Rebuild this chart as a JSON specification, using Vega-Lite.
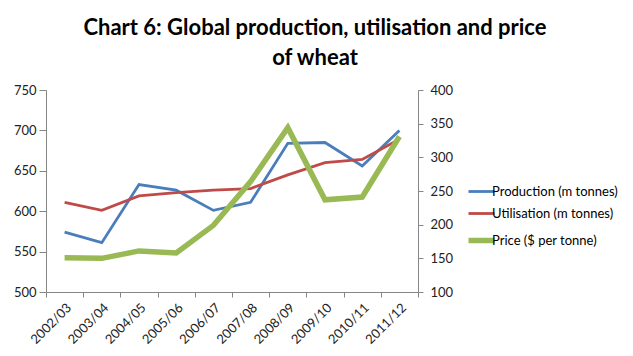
{
  "$schema": "https://vega.github.io/schema/vega-lite/v6.json",
  "autosize": "none",
  "width": 372,
  "height": 202,
  "padding": {"left": 46, "top": 90, "right": 215, "bottom": 64},
  "background": "white",
  "title": {
    "text": ["Chart 6: Global production, utilisation and price", "of wheat"],
    "font": "Lato",
    "fontSize": 22,
    "fontWeight": "bold",
    "color": "#000000",
    "anchor": "middle",
    "dx": 83,
    "offset": 14,
    "lineHeight": 30
  },
  "data": {
    "values": [
      {"year": "2002/03", "series": "Production (m tonnes)", "value": 574},
      {"year": "2003/04", "series": "Production (m tonnes)", "value": 561},
      {"year": "2004/05", "series": "Production (m tonnes)", "value": 633},
      {"year": "2005/06", "series": "Production (m tonnes)", "value": 626},
      {"year": "2006/07", "series": "Production (m tonnes)", "value": 601},
      {"year": "2007/08", "series": "Production (m tonnes)", "value": 611},
      {"year": "2008/09", "series": "Production (m tonnes)", "value": 684},
      {"year": "2009/10", "series": "Production (m tonnes)", "value": 685},
      {"year": "2010/11", "series": "Production (m tonnes)", "value": 656},
      {"year": "2011/12", "series": "Production (m tonnes)", "value": 700},
      {"year": "2002/03", "series": "Utilisation (m tonnes)", "value": 611},
      {"year": "2003/04", "series": "Utilisation (m tonnes)", "value": 601},
      {"year": "2004/05", "series": "Utilisation (m tonnes)", "value": 619},
      {"year": "2005/06", "series": "Utilisation (m tonnes)", "value": 623},
      {"year": "2006/07", "series": "Utilisation (m tonnes)", "value": 626},
      {"year": "2007/08", "series": "Utilisation (m tonnes)", "value": 628},
      {"year": "2008/09", "series": "Utilisation (m tonnes)", "value": 645},
      {"year": "2009/10", "series": "Utilisation (m tonnes)", "value": 660},
      {"year": "2010/11", "series": "Utilisation (m tonnes)", "value": 664},
      {"year": "2011/12", "series": "Utilisation (m tonnes)", "value": 689},
      {"year": "2002/03", "series": "Price ($ per tonne)", "value": 151},
      {"year": "2003/04", "series": "Price ($ per tonne)", "value": 150},
      {"year": "2004/05", "series": "Price ($ per tonne)", "value": 161},
      {"year": "2005/06", "series": "Price ($ per tonne)", "value": 158},
      {"year": "2006/07", "series": "Price ($ per tonne)", "value": 199},
      {"year": "2007/08", "series": "Price ($ per tonne)", "value": 264},
      {"year": "2008/09", "series": "Price ($ per tonne)", "value": 344},
      {"year": "2009/10", "series": "Price ($ per tonne)", "value": 237},
      {"year": "2010/11", "series": "Price ($ per tonne)", "value": 241},
      {"year": "2011/12", "series": "Price ($ per tonne)", "value": 331}
    ]
  },
  "encoding": {
    "x": {
      "field": "year",
      "type": "ordinal",
      "scale": {"type": "band", "paddingInner": 0, "paddingOuter": 0},
      "bandPosition": 0.5,
      "axis": {
        "title": null,
        "labelAngle": -45,
        "tickBand": "extent",
        "tickSize": 5,
        "labelPadding": 4
      }
    },
    "color": {
      "field": "series",
      "type": "nominal",
      "scale": {
        "domain": ["Production (m tonnes)", "Utilisation (m tonnes)", "Price ($ per tonne)"],
        "range": ["#4a7ebb", "#be4b48", "#98b954"]
      },
      "legend": {
        "title": null,
        "orient": "none",
        "legendX": 429,
        "legendY": 95,
        "symbolType": "stroke",
        "symbolSize": 676,
        "labelFontSize": 13,
        "labelFont": "Lato",
        "labelColor": "#000000",
        "labelOffset": 4,
        "rowPadding": 8,
        "labelLimit": 300,
        "encode": {
          "symbols": {
            "update": {
              "strokeWidth": {"signal": "datum.value === 'Price ($ per tonne)' ? 5.5 : 2.8"}
            }
          }
        }
      }
    }
  },
  "layer": [
    {
      "transform": [{"filter": "datum.series !== 'Price ($ per tonne)'"}],
      "mark": {"type": "line", "strokeWidth": 2.8},
      "encoding": {
        "y": {
          "field": "value",
          "type": "quantitative",
          "scale": {"domain": [500, 750], "nice": false, "zero": false},
          "axis": {"title": null, "values": [500, 550, 600, 650, 700, 750], "grid": false, "tickSize": 7, "labelPadding": 3}
        }
      }
    },
    {
      "transform": [{"filter": "datum.series === 'Price ($ per tonne)'"}],
      "mark": {"type": "line", "strokeWidth": 5.5},
      "encoding": {
        "y": {
          "field": "value",
          "type": "quantitative",
          "scale": {"domain": [100, 400], "nice": false, "zero": false},
          "axis": {"title": null, "orient": "right", "values": [100, 150, 200, 250, 300, 350, 400], "grid": false, "tickSize": 5, "labelPadding": 7}
        }
      }
    }
  ],
  "resolve": {"scale": {"y": "independent"}},
  "config": {
    "view": {"stroke": null},
    "axis": {
      "domainColor": "#868686",
      "tickColor": "#868686",
      "labelFont": "Lato",
      "labelFontSize": 13,
      "labelColor": "#222222"
    }
  }
}
